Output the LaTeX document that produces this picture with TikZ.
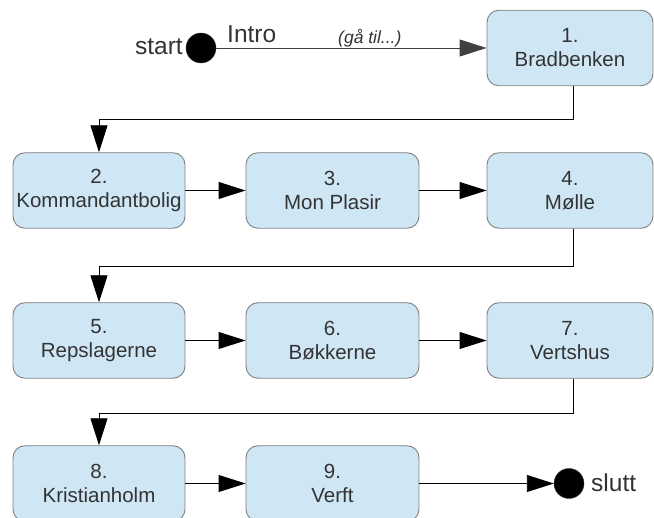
\documentclass[tikz,border=0pt]{standalone}
\usepackage{fontspec}
\setmainfont{Liberation Sans}
\usetikzlibrary{arrows.meta}
\definecolor{boxfill}{HTML}{CFE7F5}
\definecolor{boxdraw}{HTML}{808080}
\definecolor{txt}{HTML}{333333}
\tikzset{
  stbox/.style={draw=boxdraw, fill=boxfill, rounded corners=12pt, line width=0.9pt,
    minimum height=75.5pt, inner sep=0pt, align=center, text=txt,
    font=\fontsize{20.5}{24}\selectfont},
  w1/.style={minimum width=172pt},
  w2/.style={minimum width=173pt},
  w3/.style={minimum width=166pt},
  arr/.style={draw=black, line width=0.9pt, -{Triangle[length=27pt,width=17pt]}},
  dot/.style={circle, fill=black, draw=black!80, minimum size=30pt, inner sep=0pt},
  lbl/.style={text=txt, font=\fontsize{24.5}{28}\selectfont, inner sep=0pt},
  note/.style={text=txt, font=\fontsize{17.5}{20}\selectfont\itshape, inner sep=0pt}
}
\begin{document}
\begin{tikzpicture}[x=1pt, y=-1pt]
\useasboundingbox (0,0) rectangle (654,518);
% boxes
\node[stbox,w3] (b1) at (570,48) {1.\\Bradbenken};
\node[stbox,w1] (b2) at (99,190.5) {2.\\Kommandantbolig};
\node[stbox,w2] (b3) at (332.5,190.5) {3.\\Mon Plasir};
\node[stbox,w3] (b4) at (570,190.5) {4.\\Mølle};
\node[stbox,w1] (b5) at (99,340.5) {5.\\Repslagerne};
\node[stbox,w2] (b6) at (332.5,340.5) {6.\\Bøkkerne};
\node[stbox,w3] (b7) at (570,340.5) {7.\\Vertshus};
\node[stbox,w1] (b8) at (99,483.5) {8.\\Kristianholm};
\node[stbox,w2] (b9) at (332.5,483.5) {9.\\Verft};
% start / end
\node[dot] (s) at (201,48) {};
\node[dot] (e) at (569,483.5) {};
\node[lbl, anchor=base east] (st) at (183,55) {start};
\node[lbl, anchor=base west] (in) at (227,43) {Intro};
\node[note, anchor=base west] (ga) at (338,44) {(gå til...)};
\node[lbl, anchor=base west] (sl) at (591,492) {slutt};
% turn points
\coordinate (t1) at (573,119);
\coordinate (t2) at (573,266);
\coordinate (t3) at (573,413);
% connectors
\draw[arr, draw=black!75] (s) -- (b1);
\draw[arr] (b1.south -| t1) -- (t1) -| (b2.north);
\draw[arr] (b2) -- (b3);
\draw[arr] (b3) -- (b4);
\draw[arr] (b4.south -| t2) -- (t2) -| (b5.north);
\draw[arr] (b5) -- (b6);
\draw[arr] (b6) -- (b7);
\draw[arr] (b7.south -| t3) -- (t3) -| (b8.north);
\draw[arr] (b8) -- (b9);
\draw[arr] (b9) -- (e);
\end{tikzpicture}
\end{document}
